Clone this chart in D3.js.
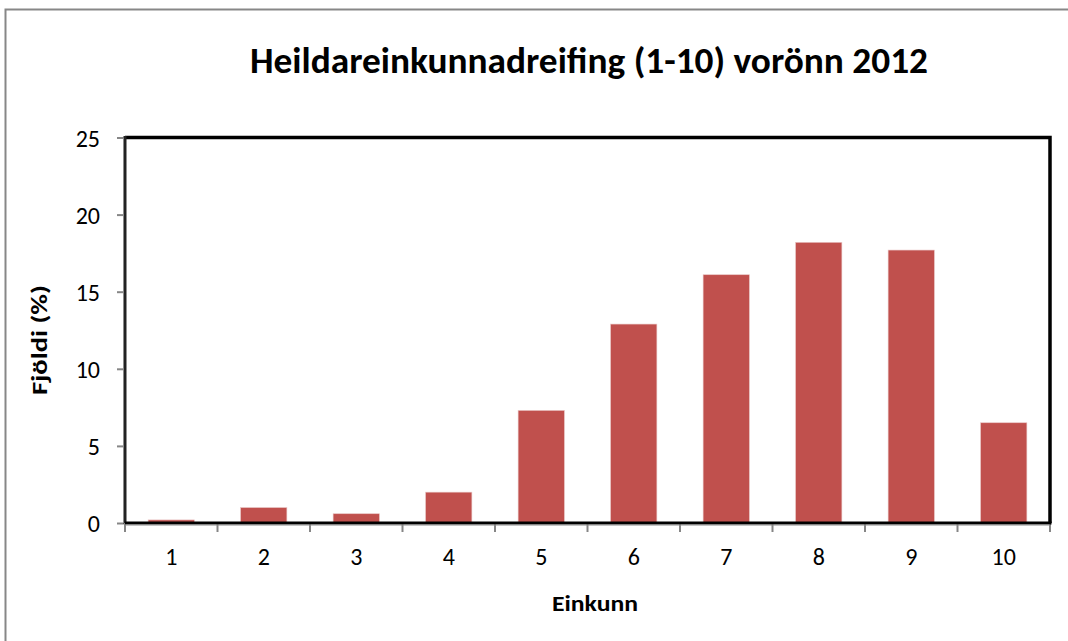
<!DOCTYPE html>
<html>
<head>
<meta charset="utf-8">
<script src="https://cdn.jsdelivr.net/npm/d3@7"></script>
<style>
  html, body { margin: 0; padding: 0; background: #fff; }
  svg { display: block; }
  text { font-family: Carlito, "Open Sans", "Noto Sans", sans-serif; fill: #000; }
</style>
</head>
<body>
<svg id="chart" width="1068" height="641"></svg>
<script>
const categories = ["1", "2", "3", "4", "5", "6", "7", "8", "9", "10"];
const values = [0.2, 1.0, 0.6, 2.0, 7.3, 12.9, 16.1, 18.2, 17.7, 6.5];
const yTicks = [0, 5, 10, 15, 20, 25];
const titleText = "Heildareinkunnadreifing (1-10) vorönn 2012";
const xTitle = "Einkunn";
const yTitle = "Fjöldi (%)";

const svg = d3.select("#chart");
const W = 1068, H = 641;
const m = { left: 125, right: 1050, top: 137.5, bottom: 523 };

// outer chart frame
svg.append("path")
  .attr("d", `M5.5,${H} L5.5,9.5 L${W},9.5`)
  .attr("fill", "none").attr("stroke", "#878787").attr("stroke-width", 2);

const x = d3.scaleBand().domain(categories).range([m.left, m.right])
  .paddingInner(0.5).paddingOuter(0.25);
const y = d3.scaleLinear().domain([0, 25]).range([m.bottom, m.top]);

// bars
svg.append("g").selectAll("rect").data(values).join("rect")
  .attr("x", (d, i) => x(categories[i]))
  .attr("width", x.bandwidth())
  .attr("y", d => y(d))
  .attr("height", d => y(0) - y(d))
  .attr("fill", "#C0504D")
  .attr("stroke", "#E8C4C3").attr("stroke-width", 0.6);

// plot border (top & right thick black)
svg.append("path")
  .attr("d", `M${m.left},${m.top} L${m.right},${m.top} L${m.right},${m.bottom}`)
  .attr("fill", "none").attr("stroke", "#000").attr("stroke-width", 3.5)
  .attr("stroke-linejoin", "miter");

// y axis
const yAxis = d3.axisLeft(y).tickValues(yTicks).tickSize(8).tickPadding(17).tickFormat(d3.format("d"));
const gy = svg.append("g").attr("transform", `translate(${m.left},0)`).call(yAxis);
gy.select(".domain").remove();
gy.selectAll(".tick line").attr("stroke", "#868686").attr("stroke-width", 2);
gy.selectAll(".tick text").style("font-size", "24px").attr("dy", "0.36em");
svg.append("line").attr("x1", m.left).attr("x2", m.left).attr("y1", m.top - 1.5).attr("y2", m.bottom + 1)
  .attr("stroke", "#222").attr("stroke-width", 3);
svg.append("line").attr("x1", m.left - 1.5).attr("x2", m.left - 1.5).attr("y1", m.top).attr("y2", m.bottom)
  .attr("stroke", "#8a8a8a").attr("stroke-width", 1);

// x axis
const xBoundaries = categories.map(c => x(c) - x.step() * x.paddingInner() / 2).concat([m.right]);
const gx = svg.append("g").attr("transform", `translate(0,${m.bottom})`);
gx.selectAll("line.tk").data(xBoundaries).join("line").attr("class", "tk")
  .attr("x1", d => d).attr("x2", d => d).attr("y1", 0).attr("y2", 9)
  .attr("stroke", "#868686").attr("stroke-width", 2);
const xAxis = d3.axisBottom(x).tickSize(0).tickPadding(27);
const gxl = svg.append("g").attr("transform", `translate(0,${m.bottom})`).call(xAxis);
gxl.select(".domain").remove();
gxl.selectAll(".tick text").style("font-size", "24px").attr("dy", "0.62em");
svg.append("line").attr("x1", m.left).attr("x2", m.right + 1.5).attr("y1", m.bottom).attr("y2", m.bottom)
  .attr("stroke", "#000").attr("stroke-width", 3);
svg.append("line").attr("x1", m.left).attr("x2", m.right).attr("y1", m.bottom + 2).attr("y2", m.bottom + 2)
  .attr("stroke", "#8a8a8a").attr("stroke-width", 1);

// titles
svg.append("text").text(titleText)
  .attr("x", 589).attr("y", 73).attr("text-anchor", "middle")
  .attr("textLength", 678).attr("lengthAdjust", "spacingAndGlyphs")
  .style("font-size", "36px").style("font-weight", "bold");
svg.append("text").text(xTitle)
  .attr("x", 595).attr("y", 611).attr("text-anchor", "middle")
  .attr("textLength", 86).attr("lengthAdjust", "spacingAndGlyphs")
  .style("font-size", "23px").style("font-weight", "bold");
svg.append("text").text(yTitle)
  .attr("transform", "translate(47,340) rotate(-90)")
  .attr("text-anchor", "middle")
  .attr("textLength", 110).attr("lengthAdjust", "spacingAndGlyphs")
  .style("font-size", "23px").style("font-weight", "bold");
</script>
</body>
</html>
